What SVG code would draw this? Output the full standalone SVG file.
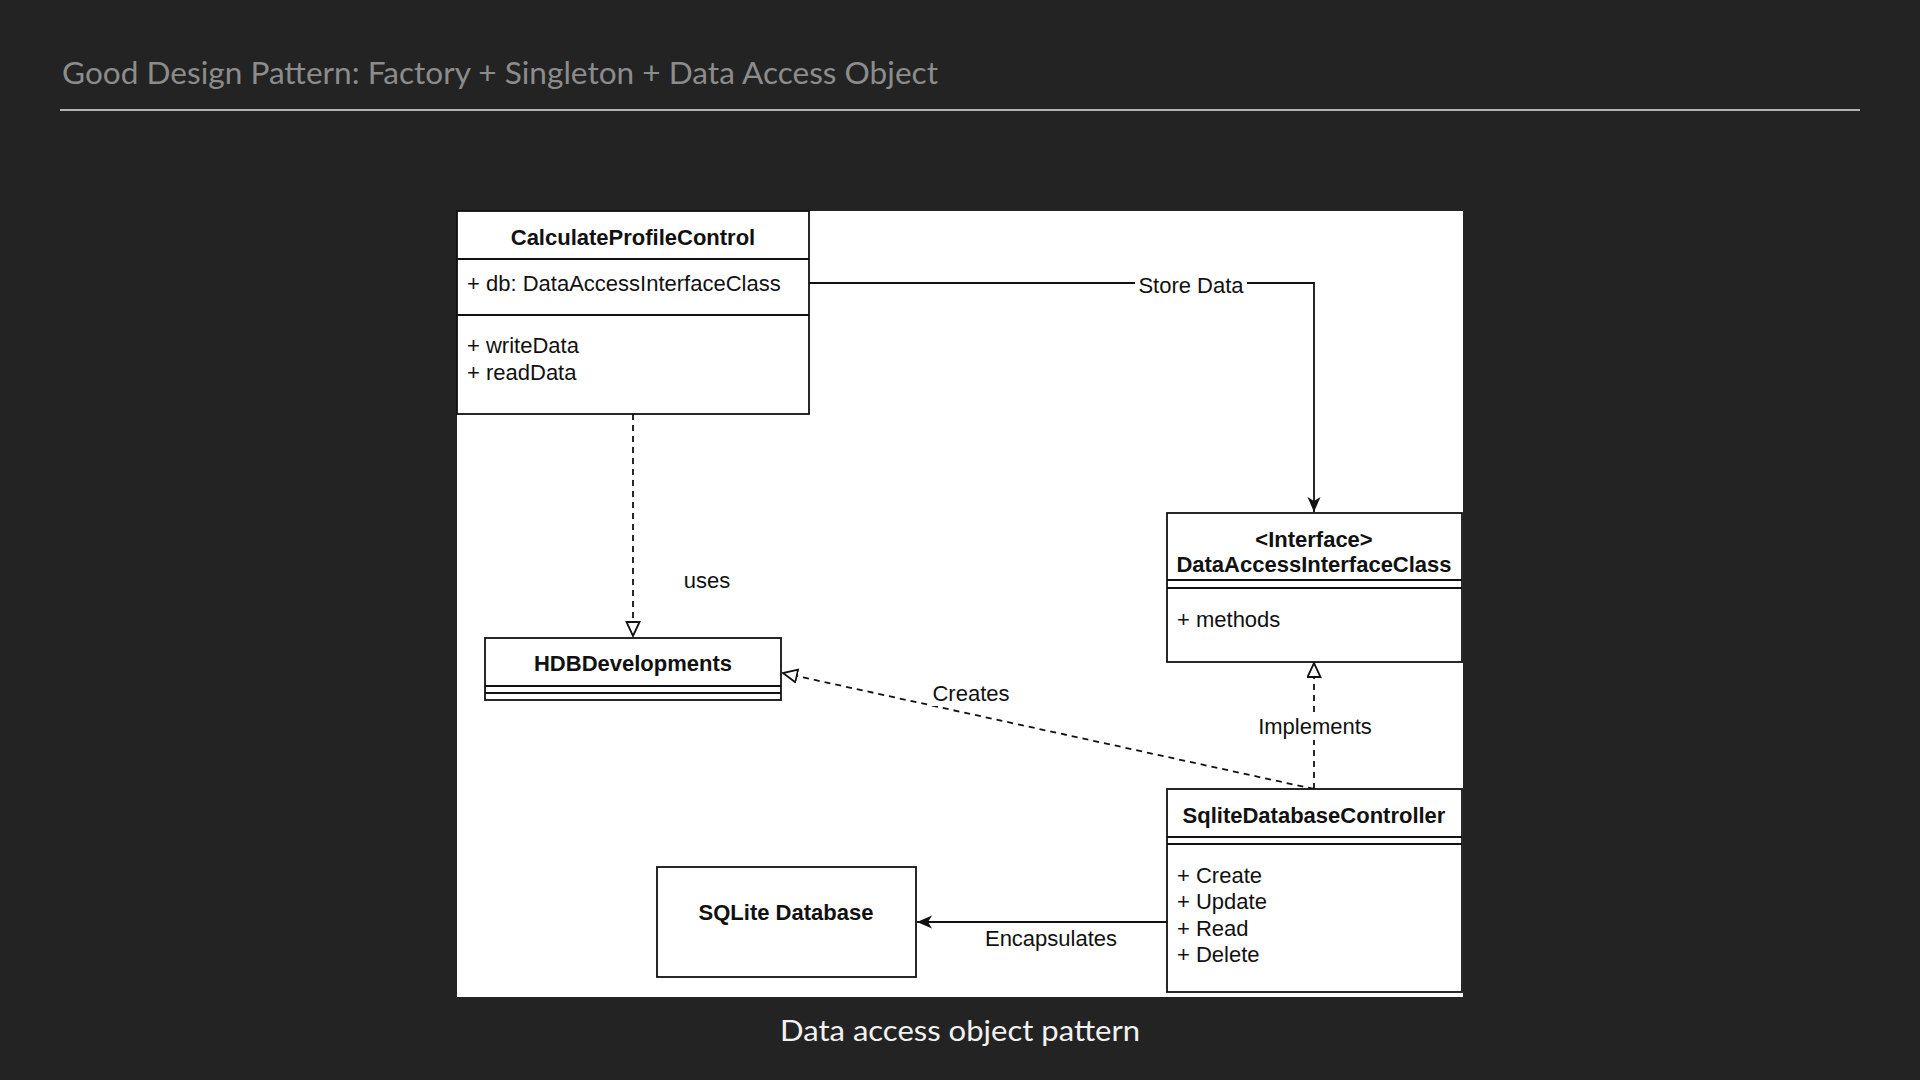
<svg xmlns="http://www.w3.org/2000/svg" width="1920" height="1080" viewBox="0 0 1920 1080">
<defs>
<style>
.box{fill:#ffffff;stroke:#111111;stroke-width:1.8}
.sep{stroke:#111111;stroke-width:1.8;fill:none}
.t{font-family:"Liberation Sans",Arial,Helvetica,sans-serif;font-size:22px;fill:#111111}
.b{font-weight:bold;text-anchor:middle}
.c{text-anchor:middle}
.line{stroke:#111111;stroke-width:1.8;fill:none}
.dash{stroke:#111111;stroke-width:1.8;fill:none;stroke-dasharray:6 5}
.lbg{fill:#ffffff}
</style>
<marker id="filled" markerUnits="userSpaceOnUse" markerWidth="16" markerHeight="14" refX="15" refY="6.5" orient="auto">
<path d="M0,0 L15,6.5 L0,13 L4,6.5 Z" fill="#111111"/>
</marker>
<marker id="hollow" markerUnits="userSpaceOnUse" markerWidth="17" markerHeight="17" refX="15" refY="7.5" orient="auto">
<path d="M1,1 L15,7.5 L1,14 Z" fill="#ffffff" stroke="#111111" stroke-width="1.8"/>
</marker>
</defs>
<rect x="0" y="0" width="1920" height="1080" fill="#232323"/>
<text x="62" y="84" font-family="Lato,'Open Sans',sans-serif" font-size="30" fill="#8c8c8c" textLength="876" lengthAdjust="spacingAndGlyphs">Good Design Pattern: Factory + Singleton + Data Access Object</text>
<line x1="60" y1="110" x2="1860" y2="110" stroke="#b4b4b4" stroke-width="2"/>
<rect x="457" y="211" width="1006" height="786" fill="#ffffff"/>

<g id="connectors">
<path class="line" d="M809,283 L1314,283 L1314,512" marker-end="url(#filled)"/>
<rect class="lbg" x="1135" y="271" width="112" height="26"/>
<text class="t c" x="1191" y="293">Store Data</text>
<path class="dash" d="M633,414 L633,636" marker-end="url(#hollow)"/>
<text class="t c" x="707" y="588">uses</text>
<path class="dash" d="M1314,789 L783,673" marker-end="url(#hollow)"/>
<rect class="lbg" x="931" y="683" width="80" height="23"/>
<text class="t c" x="971" y="701">Creates</text>
<path class="dash" d="M1314,789 L1314,663" marker-end="url(#hollow)"/>
<rect class="lbg" x="1256" y="715" width="118" height="25"/>
<text class="t c" x="1315" y="734">Implements</text>
<path class="line" d="M1167,922 L917,922" marker-end="url(#filled)"/>
<text class="t c" x="1051" y="946">Encapsulates</text>
</g>

<g id="calculate-profile-control">
<rect class="box" x="457" y="211" width="352" height="203"/>
<line class="sep" x1="457" y1="259" x2="809" y2="259"/>
<line class="sep" x1="457" y1="315" x2="809" y2="315"/>
<text class="t b" x="633" y="245">CalculateProfileControl</text>
<text class="t" x="467" y="291">+ db: DataAccessInterfaceClass</text>
<text class="t" x="467" y="353">+ writeData</text>
<text class="t" x="467" y="380">+ readData</text>
</g>

<g id="hdb-developments">
<rect class="box" x="485" y="638" width="296" height="62"/>
<line class="sep" x1="485" y1="686" x2="781" y2="686"/>
<line class="sep" x1="485" y1="693" x2="781" y2="693"/>
<text class="t b" x="633" y="671">HDBDevelopments</text>
</g>

<g id="data-access-interface">
<rect class="box" x="1167" y="513" width="295" height="149"/>
<line class="sep" x1="1167" y1="580" x2="1462" y2="580"/>
<line class="sep" x1="1167" y1="588" x2="1462" y2="588"/>
<text class="t b" x="1314" y="547">&lt;Interface&gt;</text>
<text class="t b" x="1314" y="572">DataAccessInterfaceClass</text>
<text class="t" x="1177" y="627">+ methods</text>
</g>

<g id="sqlite-database-controller">
<rect class="box" x="1167" y="789" width="295" height="203"/>
<line class="sep" x1="1167" y1="837" x2="1462" y2="837"/>
<line class="sep" x1="1167" y1="844" x2="1462" y2="844"/>
<text class="t b" x="1314" y="823">SqliteDatabaseController</text>
<text class="t" x="1177" y="883">+ Create</text>
<text class="t" x="1177" y="909">+ Update</text>
<text class="t" x="1177" y="936">+ Read</text>
<text class="t" x="1177" y="962">+ Delete</text>
</g>

<g id="sqlite-database">
<rect class="box" x="657" y="867" width="259" height="110"/>
<text class="t b" x="786" y="920">SQLite Database</text>
</g>

<text x="960" y="1041" text-anchor="middle" font-family="Lato,'Open Sans',sans-serif" font-size="28" fill="#f2f2f2" textLength="360" lengthAdjust="spacingAndGlyphs">Data access object pattern</text>
</svg>
